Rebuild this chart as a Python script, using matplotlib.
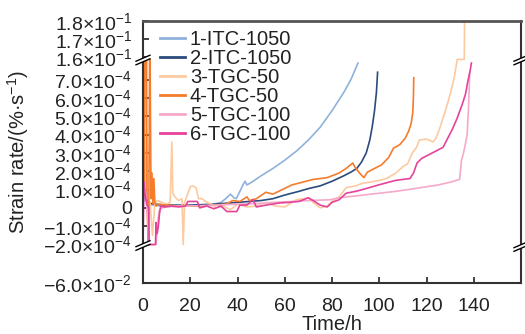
import numpy as np
import matplotlib
matplotlib.use("Agg")
import matplotlib.pyplot as plt

plt.rcParams['font.family'] = ['Liberation Sans', 'DejaVu Sans']
plt.rcParams['mathtext.fontset'] = 'custom'
plt.rcParams['mathtext.rm'] = 'Liberation Sans'
plt.rcParams['mathtext.it'] = 'Liberation Sans:italic'
plt.rcParams['mathtext.bf'] = 'Liberation Sans:bold'

UNIT = 1e-4  # values below are in units of 1e-4 %/s

labels = ["1-ITC-1050", "2-ITC-1050", "3-TGC-50", "4-TGC-50", "5-TGC-100", "6-TGC-100"]
colors = ['#8fb2dc', '#2a4b7c', '#fdcaa0', '#f47c2c', '#f5a9cb', '#e5439a']

t1 = [0, 1, 2, 4, 8, 15, 20, 25, 30, 33, 35, 37, 38.5, 39.5, 41, 42.5, 43.2, 44, 46, 50, 55, 60, 65, 70, 75, 80, 85, 88, 91]
v1 = [0.3, 0.6, 0.2, 0.15, 0.1, 0.1, 0.1, 0.12, 0.2, 0.3, 0.5, 0.75, 0.55, 0.5, 0.9, 1.3, 1.45, 1.25, 1.4, 1.75, 2.15, 2.6, 3.1, 3.7, 4.4, 5.3, 6.3, 7.0, 7.9]

t2 = [0, 1, 2, 3, 5, 10, 20, 30, 40, 50, 55, 60, 66, 70, 75, 80, 85, 88, 90.5, 92.5, 94.5, 96, 97, 98, 98.8, 99.3]
v2 = [0.5, 1.0, 0.3, 0.25, 0.2, 0.15, 0.15, 0.2, 0.3, 0.4, 0.5, 0.7, 0.9, 1.05, 1.2, 1.45, 1.75, 1.95, 2.15, 2.5, 3.0, 3.7, 4.4, 5.3, 6.3, 7.4]

t3 = [0, 0.5, 1, 1.5, 2, 3, 4, 5, 6, 8, 10, 11.5, 12.2, 12.6, 13.5, 15, 16.5, 17, 17.6, 18.2, 19, 20, 21, 22.5, 23.5, 25, 27, 29, 31, 34, 37, 40, 44, 48, 52, 56, 60, 65, 68, 70, 72, 75, 78, 80, 83, 86, 90, 93, 96, 100, 103, 107, 110, 112, 114, 115.8, 117, 120, 122.8, 124, 125.5, 127, 128.5, 130, 131, 132, 133, 134.5, 136, 136.1]
v3 = [2.0, 3.0, 1.0, 3.7, 0.5, 0.3, -1.5, 0.2, 0.4, 0.3, 0.2, 0.3, 3.6, 0.8, 0.6, 0.4, 0.5, -2.0, 0.3, 0.5, 0.8, 1.15, 1.2, 1.1, 0.5, 0.5, 0.3, 0.2, 0.0, 0.1, -0.1, 0.2, 0.05, 0.1, 0.3, 0.1, 0.05, 0.45, 0.5, 0.55, 0.3, 0.0, 0.1, 0.35, 0.6, 1.1, 1.2, 1.35, 1.4, 1.5, 1.6, 1.9, 2.25, 2.4, 3.0, 3.3, 3.7, 3.75, 3.6, 3.8, 4.3, 4.9, 5.5, 6.2, 6.7, 7.3, 8.1, 8.1, 8.1, 1800]

t4 = [0, 0.6, 0.8, 1.5, 1.7, 2.2, 2.4, 2.8, 3.0, 3.4, 3.8, 4.2, 4.6, 5.0, 5.5, 6.5, 10, 15, 20, 25, 30, 35, 38, 41, 44, 45, 48, 52, 55, 59, 63, 66, 69, 72, 75, 78, 80, 83, 86, 88.8, 89.8, 92, 93.5, 95, 98, 101, 104, 106, 108.7, 111, 112.5, 113.5, 114.2, 114.5, 114.6]
v4 = [0.8, 1.0, 8.1, 8.1, 0.3, -2.1, -2.1, 8.1, 8.1, 0.5, 1.9, 0.2, 1.6, 0.3, 0.1, 0.2, 0.15, 0.1, 0.1, 0.1, 0.15, 0.2, 0.4, 0.35, 0.6, 0.4, 0.5, 0.85, 0.75, 1.0, 1.25, 1.35, 1.45, 1.55, 1.6, 1.65, 1.75, 1.9, 2.15, 2.45, 2.2, 1.85, 1.65, 1.95, 2.15, 2.35, 2.75, 3.25, 3.45, 3.8, 4.2, 4.6, 5.2, 6.2, 7.1]

t5 = [0, 0.5, 1, 1.5, 2, 2.5, 3, 4, 5, 5.5, 6, 6.5, 7, 8, 10, 15, 20, 30, 40, 50, 55, 60, 70, 79, 83, 90, 100, 107, 115, 120, 125, 130, 134, 134.8, 135.5, 136.5, 137.2, 137.8, 138.3]
v5 = [0.3, 0.8, 1.0, 0.2, -0.5, -2.2, -2.2, -2.2, -2.2, -2.2, -1.2, -0.5, -0.1, 0.0, 0.05, 0.1, 0.1, 0.15, 0.2, 0.25, 0.3, 0.33, 0.4, 0.44, 0.55, 0.65, 0.8, 0.9, 1.05, 1.15, 1.25, 1.4, 1.55, 2.6, 2.9, 3.5, 4.0, 5.5, 7.4]

t6 = [0, 0.4, 0.8, 1.2, 1.6, 2.4, 2.6, 3.5, 5.3, 5.5, 6.0, 6.5, 7.0, 7.5, 9, 12, 15, 18, 19, 23, 24, 27, 30, 33, 35.5, 39.7, 41, 44, 46.5, 48, 52, 58, 62, 66, 70, 72, 75, 78, 80, 83, 86, 90, 93, 97, 100, 104, 107, 110, 113, 114.5, 116, 118, 121, 124, 127, 129, 131, 133, 135, 136.5, 137.5, 138.5, 139]
v6 = [-2.0, 1.4, 0.8, 0.5, 0.2, 0.0, -2.3, -2.3, -2.3, -0.8, -1.4, -1.0, -0.3, 0.1, 0.05, 0.1, 0.05, 0.1, 0.35, 0.35, 0.0, 0.1, -0.05, 0.1, -0.2, -0.2, 0.15, 0.15, 0.45, 0.05, 0.15, 0.27, 0.3, 0.35, 0.55, 0.4, 0.15, 0.05, 0.3, 0.44, 0.8, 0.9, 1.0, 1.15, 1.26, 1.4, 1.5, 1.55, 1.6, 1.9, 2.45, 2.7, 2.9, 3.1, 3.3, 3.8, 4.3, 4.9, 5.6, 6.2, 6.9, 7.5, 7.9]

times = [t1, t2, t3, t4, t5, t6]
values = [v1, v2, v3, v4, v5, v6]

xticks = [0, 20, 40, 60, 80, 100, 120, 140]
yticks = [-6e-2, -2e-4, -1e-4, 0, 1e-4, 2e-4, 3e-4, 4e-4, 5e-4, 6e-4, 7e-4, 1.6e-1, 1.7e-1, 1.8e-1]
yticklabels = [r"$-$6.0×10$^{-2}$", r"$-$2.0×10$^{-4}$", r"$-$1.0×10$^{-4}$", "0",
               r"1.0×10$^{-4}$", r"2.0×10$^{-4}$", r"3.0×10$^{-4}$", r"4.0×10$^{-4}$",
               r"5.0×10$^{-4}$", r"6.0×10$^{-4}$", r"7.0×10$^{-4}$",
               r"1.6×10$^{-1}$", r"1.7×10$^{-1}$", r"1.8×10$^{-1}$"]

# piecewise (broken) y scale
real_pts = np.array([-0.06, -2.0e-4, 8.1e-4, 0.1595, 0.18])
virt_pts = np.array([0.0, 38.4, 223.2, 224.5, 261.5])

def fwd(y):
    return np.interp(y, real_pts, virt_pts)

def inv(v):
    return np.interp(v, virt_pts, real_pts)

W, H = 525, 334
fig = plt.figure(figsize=(W / 100, H / 100), dpi=100)
L, R, T, B = 143, 521, 21, 283
ax = fig.add_axes([L / W, (H - B) / H, (R - L) / W, (B - T) / H])
ax.set_yscale('function', functions=(fwd, inv))

for t, v, c, lab in zip(times, values, colors, labels):
    ax.plot(t, np.array(v) * UNIT, color=c, lw=1.2, label=lab)

ax.set_xlim(0, 160)
ax.set_ylim(-0.06, 0.18)
ax.set_xticks(xticks)
ax.set_xticklabels([str(x) for x in xticks])
ax.set_yticks(yticks)
ax.set_yticklabels(yticklabels)
ax.yaxis.set_minor_locator(matplotlib.ticker.NullLocator())
ax.xaxis.set_minor_locator(matplotlib.ticker.NullLocator())
ax.tick_params(direction='in', length=4, width=1.2, labelsize=14, colors='#222222')
ax.tick_params(axis='y', pad=8)
ax.tick_params(axis='x', pad=11)
for s in ax.spines.values():
    s.set_linewidth(1.5)
    s.set_color('#333333')
ax.spines['top'].set_color('#555555')
ax.spines['top'].set_linewidth(2)

ax.set_xlabel("Time/h", fontsize=14.5, color='#222222', labelpad=0)
ax.set_ylabel("Strain rate/(%·s$^{-1}$)", fontsize=14.5, color='#222222', labelpad=9)

leg = ax.legend(loc='upper left', bbox_to_anchor=(0.012, 1.012), frameon=False, fontsize=14.5,
                handlelength=1.25, handletextpad=0.25, labelspacing=0.0, borderaxespad=0.2)
for ln in leg.get_lines():
    ln.set_linewidth(2.0)
for tx in leg.get_texts():
    tx.set_color('#222222')

# break marks
ax_w, ax_h = R - L, B - T
def brk(xp, yp):
    xa = (xp - L) / ax_w
    ya = (B - yp) / ax_h
    dx, dy = 7 / ax_w, 3 / ax_h
    g = 1.8 / ax_h
    poly = plt.Polygon([[xa - dx, ya - dy - g], [xa + dx, ya + dy - g], [xa + dx, ya + dy + g], [xa - dx, ya - dy + g]],
                       closed=True, transform=ax.transAxes, facecolor='white', edgecolor='none', clip_on=False, zorder=5)
    ax.add_patch(poly)
    for s in (-g, g):
        ax.plot([xa - dx, xa + dx], [ya - dy + s, ya + dy + s], transform=ax.transAxes, color='black', lw=1.0,
                clip_on=False, zorder=6)

brk(L, 60)
brk(L, 245.5)
brk(R, 60)
brk(R, 246.5)

fig.savefig("out.png", dpi=100)
